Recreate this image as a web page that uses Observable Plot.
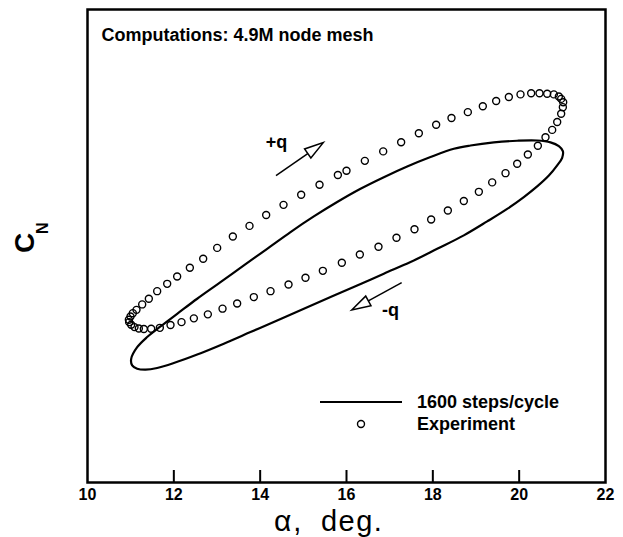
<!DOCTYPE html>
<html><head><meta charset="utf-8">
<script src="https://cdn.jsdelivr.net/npm/d3@7"></script>
<script src="https://cdn.jsdelivr.net/npm/@observablehq/plot@0.6"></script>
<style>
body{margin:0;background:#fff;}
#chart svg{display:block;font-family:"Liberation Sans",Arial,sans-serif;}
</style></head><body><div id="chart"></div>
<script>
// Experiment (alpha, CN), in loop order
const expAlpha = [10.958,10.996,11.050,11.135,11.267,11.421,11.614,11.846,12.077,12.371,12.680,13.004,13.367,13.753,14.139,14.541,14.950,15.375,15.800,16.000,16.425,16.850,17.266,17.676,18.077,18.432,18.811,19.158,19.467,19.761,20.031,20.278,20.471,20.649,20.803,20.919,20.973,21.020,21.012,20.973,20.881,20.765,20.610,20.433,20.201,19.954,19.684,19.375,19.066,18.718,18.348,17.961,17.575,17.158,16.741,16.309,15.892,15.452,15.050,14.657,14.240,13.853,13.467,13.128,12.788,12.464,12.178,11.923,11.676,11.475,11.305,11.189,11.089,11.012,10.965];
const expCN = [0.688,0.702,0.716,0.730,0.753,0.777,0.809,0.840,0.871,0.908,0.946,0.992,1.040,1.085,1.131,1.174,1.217,1.259,1.300,1.318,1.360,1.400,1.439,1.477,1.513,1.541,1.566,1.591,1.613,1.630,1.641,1.646,1.646,1.644,1.641,1.632,1.622,1.608,1.587,1.559,1.524,1.491,1.460,1.424,1.387,1.348,1.308,1.269,1.229,1.190,1.150,1.112,1.071,1.035,0.997,0.964,0.929,0.895,0.866,0.837,0.809,0.784,0.757,0.735,0.711,0.694,0.678,0.666,0.654,0.650,0.649,0.651,0.657,0.667,0.678];

// Computation, 1600 steps/cycle (closed loop)
const cfdAlpha = [11.012,11.151,11.382,11.691,12.077,12.541,13.081,13.622,14.162,14.703,15.243,15.784,16.325,16.865,17.406,17.946,18.487,18.873,19.413,19.954,20.417,20.726,20.919,21.012,20.996,20.881,20.688,20.417,20.108,19.722,19.259,18.718,18.101,17.483,16.865,16.247,15.630,15.012,14.394,13.776,13.158,12.541,12.000,11.614,11.344,11.151,11.035];
const cfdCN = [0.523,0.572,0.615,0.660,0.713,0.777,0.847,0.918,0.988,1.059,1.125,1.186,1.242,1.291,1.336,1.376,1.411,1.425,1.438,1.445,1.446,1.438,1.422,1.401,1.373,1.341,1.298,1.252,1.207,1.157,1.104,1.045,0.988,0.932,0.883,0.833,0.784,0.735,0.685,0.636,0.587,0.541,0.505,0.484,0.477,0.481,0.495];

const xTicks = [10, 12, 14, 16, 18, 20, 22];

// Pitch-rate annotations
const arrowLabels = ["+q", "-q"];
const arrowTailAlpha = [14.378, 17.290];
const arrowTailCN = [1.295, 0.843];
const arrowTipAlpha = [15.474, 16.132];
const arrowTipCN = [1.435, 0.727];
const labelAlpha = [14.378, 17.019];
const labelCN = [1.440, 0.727];

const legendLabels = ["1600 steps/cycle", "Experiment"];
const titleText = "Computations: 4.9M node mesh";
const xLabelParts = ["α", ",", "\u00a0deg."];

const exp = expAlpha.map((a, i) => ({alpha: a, cn: expCN[i]}));
const cfd = cfdAlpha.map((a, i) => ({alpha: a, cn: cfdCN[i]}));
const notes = arrowLabels.map((t, i) => ({
  text: t, x1: arrowTailAlpha[i], y1: arrowTailCN[i], x2: arrowTipAlpha[i], y2: arrowTipCN[i],
  lx: labelAlpha[i], ly: labelCN[i]
}));

function arrowsMark(index, scales, values, dims) {
  const g = d3.create("svg:g").attr("stroke", "black").attr("stroke-width", 1.5);
  const L = 19, W = 5.5;
  for (const a of notes) {
    const x1 = scales.x(a.x1), y1 = scales.y(a.y1), x2 = scales.x(a.x2), y2 = scales.y(a.y2);
    const ang = Math.atan2(y2 - y1, x2 - x1);
    const bx = x2 - L * Math.cos(ang), by = y2 - L * Math.sin(ang);
    const px = -Math.sin(ang) * W, py = Math.cos(ang) * W;
    g.append("line").attr("x1", x1).attr("y1", y1).attr("x2", bx).attr("y2", by);
    g.append("path").attr("d", `M${x2},${y2}L${bx + px},${by + py}L${bx - px},${by - py}Z`).attr("fill", "white");
  }
  return g.node();
}

function legendMark(index, scales, values, dims) {
  const g = d3.create("svg:g");
  const x0 = dims.marginLeft, y0 = dims.marginTop;
  g.append("line").attr("x1", x0 + 233).attr("x2", x0 + 315).attr("y1", y0 + 393).attr("y2", y0 + 393)
    .attr("stroke", "black").attr("stroke-width", 2.2);
  g.append("circle").attr("cx", x0 + 274).attr("cy", y0 + 415).attr("r", 3.5)
    .attr("fill", "none").attr("stroke", "black").attr("stroke-width", 1.4);
  legendLabels.forEach((t, i) => {
    g.append("text").attr("x", x0 + 330).attr("y", y0 + 393 + i * 22).attr("dy", "0.35em")
      .attr("text-anchor", "start")
      .attr("font-size", 18).attr("font-weight", "bold").attr("fill", "black").text(t);
  });
  return g.node();
}

function xLabelMark(index, scales, values, dims) {
  const t = d3.create("svg:text")
    .attr("x", dims.marginLeft + 187)
    .attr("y", dims.height - 6)
    .attr("text-anchor", "start")
    .attr("fill", "black");
  t.append("tspan").attr("font-size", 30).text(xLabelParts[0]);
  t.append("tspan").attr("font-size", 29).attr("dx", 2).text(xLabelParts[1]);
  t.append("tspan").attr("font-size", 29).attr("dx", 10).attr("letter-spacing", 1.5).text(xLabelParts[2]);
  return t.node();
}

const chart = Plot.plot({
  width: 623,
  height: 537,
  marginLeft: 87,
  marginRight: 18,
  marginTop: 9,
  marginBottom: 55,
  style: {fontFamily: "'Liberation Sans', Arial, sans-serif", background: "white", color: "black"},
  x: {domain: [10, 22]},
  y: {domain: [0, 2], axis: null},
  marks: [
    Plot.line(cfd, {x: "alpha", y: "cn", curve: "catmull-rom-closed", stroke: "black", strokeWidth: 2.2}),
    Plot.dot(exp, {x: "alpha", y: "cn", r: 3.5, stroke: "black", strokeWidth: 1.4, fill: "none"}),
    arrowsMark,
    Plot.text(notes, {x: "lx", y: "ly", text: "text", fontSize: 18, fontWeight: "bold", fill: "black"}),
    legendMark,
    Plot.text([titleText], {frameAnchor: "top-left", dx: 14, dy: 18.5, textAnchor: "start", fontSize: 18, fontWeight: "bold", fill: "black"}),
    Plot.axisX(xTicks.slice(1, -1), {tickSize: -12, tickFormat: () => "", strokeWidth: 2, label: null}),
    Plot.axisX(xTicks, {tickSize: 0, tickPadding: 6, fontSize: 16, fontWeight: "bold", label: null}),
    xLabelMark,
    Plot.text(["C"], {frameAnchor: "left", dx: -62, dy: 7, rotate: -90, fontSize: 28, fontWeight: "bold", fill: "black"}),
    Plot.text(["N"], {frameAnchor: "left", dx: -45, dy: -12, rotate: -90, fontSize: 16, fontWeight: "bold", fill: "black"}),
    Plot.frame({stroke: "black", strokeWidth: 2.5})
  ]
});
document.getElementById("chart").appendChild(chart);
</script></body></html>
